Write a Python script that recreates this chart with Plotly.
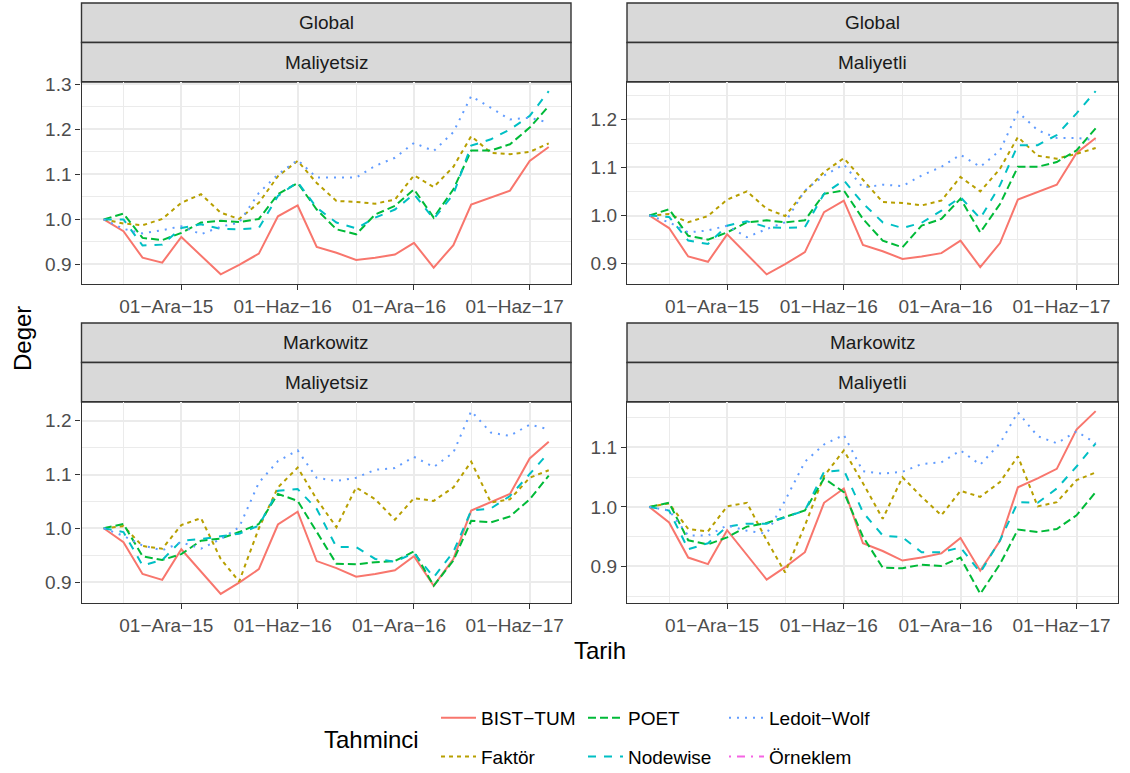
import pandas as pd
import plotly.graph_objects as go

W, H = 1130, 773

# Monthly observation dates
DATES = ["2015-08-01", "2015-09-01", "2015-10-01", "2015-11-01", "2015-12-01",
         "2016-01-01", "2016-02-01", "2016-03-01", "2016-04-01", "2016-05-01",
         "2016-06-01", "2016-07-01", "2016-08-01", "2016-09-01", "2016-10-01",
         "2016-11-01", "2016-12-01", "2017-01-01", "2017-02-01", "2017-03-01",
         "2017-04-01", "2017-05-01", "2017-06-01", "2017-07-01"]

TICK_DATES = ["2015-12-01", "2016-06-01", "2016-12-01", "2017-06-01"]
TICK_LABELS = ["01\u2212Ara\u221215", "01\u2212Haz\u221216", "01\u2212Ara\u221216", "01\u2212Haz\u221217"]
MINOR_DATES = ["2015-09-01", "2016-03-01", "2016-09-01", "2017-03-01"]

# Market index (same in every panel)
BIST_TUM = [1.000, 0.974, 0.915, 0.904, 0.961, 0.920, 0.878, 0.899, 0.924, 1.007, 1.031, 0.939,
            0.926, 0.910, 0.915, 0.922, 0.948, 0.893, 0.943, 1.033, 1.048, 1.064, 1.130, 1.161]

# Global / Maliyetsiz
FAKTOR_GM = [1.000, 0.991, 0.987, 1.001, 1.037, 1.056, 1.015, 1.001, 1.037, 1.096, 1.130, 1.081,
             1.041, 1.039, 1.035, 1.044, 1.098, 1.072, 1.117, 1.185, 1.148, 1.145, 1.150, 1.169]
POET_GM = [1.000, 1.013, 0.959, 0.954, 0.970, 0.993, 0.997, 0.994, 1.001, 1.056, 1.081, 1.022,
           0.978, 0.967, 1.011, 1.030, 1.067, 1.004, 1.067, 1.153, 1.153, 1.167, 1.204, 1.252]
NODEWISE_GM = [1.000, 1.000, 0.942, 0.944, 0.981, 0.989, 0.979, 0.978, 0.981, 1.052, 1.083, 1.026,
               0.993, 0.980, 1.004, 1.022, 1.056, 1.001, 1.056, 1.164, 1.178, 1.200, 1.230, 1.285]
LW_GM = [1.000, 0.979, 0.969, 0.976, 0.985, 0.967, 0.984, 0.993, 1.059, 1.100, 1.132, 1.093,
         1.093, 1.093, 1.119, 1.137, 1.170, 1.152, 1.194, 1.274, 1.248, 1.222, 1.226, 1.215]

# Global / Maliyetli
FAKTOR_GC = [1.000, 1.003, 0.986, 0.999, 1.033, 1.050, 1.014, 0.999, 1.050, 1.090, 1.119, 1.075,
             1.028, 1.026, 1.021, 1.031, 1.080, 1.050, 1.097, 1.163, 1.124, 1.118, 1.128, 1.140]
POET_GC = [1.000, 1.013, 0.958, 0.950, 0.965, 0.986, 0.990, 0.986, 0.990, 1.045, 1.052, 0.993,
           0.948, 0.934, 0.979, 0.993, 1.035, 0.965, 1.024, 1.101, 1.101, 1.111, 1.135, 1.181]
NODEWISE_GC = [1.000, 0.997, 0.948, 0.941, 0.979, 0.988, 0.976, 0.974, 0.976, 1.045, 1.073, 1.025,
               0.986, 0.974, 0.985, 1.010, 1.038, 0.994, 1.063, 1.146, 1.146, 1.167, 1.212, 1.258]
LW_GC = [1.000, 0.986, 0.965, 0.969, 0.979, 0.955, 0.972, 0.986, 1.052, 1.083, 1.106, 1.058,
         1.064, 1.061, 1.083, 1.101, 1.126, 1.101, 1.135, 1.215, 1.177, 1.161, 1.161, 1.156]

# Markowitz / Maliyetsiz
FAKTOR_MM = [1.000, 1.004, 0.967, 0.962, 1.006, 1.019, 0.943, 0.901, 1.000, 1.076, 1.113, 1.054,
             1.002, 1.076, 1.054, 1.016, 1.056, 1.051, 1.076, 1.124, 1.048, 1.054, 1.094, 1.108]
POET_MM = [1.000, 1.008, 0.948, 0.941, 0.952, 0.977, 0.981, 0.993, 1.008, 1.064, 1.051, 0.993,
           0.934, 0.933, 0.937, 0.939, 0.957, 0.893, 0.940, 1.014, 1.011, 1.022, 1.054, 1.098]
NODEWISE_MM = [1.000, 0.993, 0.931, 0.941, 0.977, 0.980, 0.985, 0.990, 1.005, 1.070, 1.073, 1.036,
               0.965, 0.965, 0.943, 0.938, 0.954, 0.909, 0.956, 1.033, 1.037, 1.060, 1.101, 1.141]
LW_MM = [1.000, 0.986, 0.968, 0.959, 0.974, 0.962, 0.980, 1.002, 1.085, 1.125, 1.145, 1.094,
         1.088, 1.094, 1.109, 1.112, 1.133, 1.114, 1.141, 1.218, 1.178, 1.172, 1.193, 1.184]

# Markowitz / Maliyetli
FAKTOR_MC = [1.000, 1.006, 0.963, 0.959, 1.001, 1.007, 0.944, 0.890, 0.969, 1.052, 1.095, 1.040,
             0.980, 1.050, 1.017, 0.986, 1.027, 1.017, 1.042, 1.085, 1.001, 1.008, 1.045, 1.058]
POET_MC = [1.000, 1.007, 0.944, 0.937, 0.949, 0.967, 0.973, 0.983, 0.994, 1.048, 1.025, 0.950,
           0.898, 0.897, 0.903, 0.901, 0.915, 0.854, 0.904, 0.962, 0.958, 0.963, 0.986, 1.025]
NODEWISE_MC = [1.000, 0.994, 0.929, 0.939, 0.967, 0.972, 0.972, 0.983, 0.994, 1.059, 1.062, 0.991,
               0.952, 0.949, 0.924, 0.924, 0.932, 0.890, 0.944, 1.008, 1.007, 1.031, 1.068, 1.107]
LW_MC = [1.000, 0.994, 0.952, 0.952, 0.969, 0.960, 0.955, 1.011, 1.076, 1.105, 1.121, 1.060,
         1.056, 1.059, 1.072, 1.075, 1.095, 1.071, 1.107, 1.159, 1.119, 1.107, 1.127, 1.107]

# Sample covariance estimator has no values to show
ORNEKLEM = [None] * len(DATES)

PANEL_TITLES = [("Global", "Maliyetsiz"), ("Global", "Maliyetli"),
                ("Markowitz", "Maliyetsiz"), ("Markowitz", "Maliyetli")]

SERIES_NAMES = ["BIST\u2212TUM", "Fakt\u00f6r", "POET", "Nodewise", "Ledoit\u2212Wolf", "\u00d6rneklem"]
PANEL_DATA = [
    [BIST_TUM, FAKTOR_GM, POET_GM, NODEWISE_GM, LW_GM, ORNEKLEM],
    [BIST_TUM, FAKTOR_GC, POET_GC, NODEWISE_GC, LW_GC, ORNEKLEM],
    [BIST_TUM, FAKTOR_MM, POET_MM, NODEWISE_MM, LW_MM, ORNEKLEM],
    [BIST_TUM, FAKTOR_MC, POET_MC, NODEWISE_MC, LW_MC, ORNEKLEM],
]

COLORS = ["#F8766D", "#B79F00", "#00BA38", "#00BFC4", "#619CFF", "#F564E3"]
DASHES = ["solid", "4px,4px", "8px,4px", "8px,8px", "2px,6px", "2px,6px,8px,6px"]
LEGEND_SLOT = ["legend", "legend", "legend2", "legend2", "legend3", "legend3"]

FONT = "Liberation Sans"


def fx(px):
    return px / W


def fy(py):
    return 1 - py / H


# Panel geometry in pixels: (left, right, top, bottom)
PANEL_BOX = [(81.5, 571, 82, 283.5), (627, 1118, 82, 283.5),
             (81.5, 571, 402, 603), (627, 1118, 402, 603)]
STRIP_H = 39.5

fig = go.Figure()

for p, series in enumerate(PANEL_DATA):
    ax = "" if p == 0 else str(p + 1)
    for s, (name, vals) in enumerate(zip(SERIES_NAMES, series)):
        fig.add_trace(go.Scatter(
            x=DATES, y=vals, mode="lines", name=name,
            line=dict(color=COLORS[s], width=2, dash=DASHES[s]),
            xaxis="x" + ax, yaxis="y" + ax,
            legend=LEGEND_SLOT[s], legendgroup=name,
            showlegend=(p == 0), hoverinfo="skip",
        ))

# x range: data span with 5% expansion on each side
d0, d1 = pd.Timestamp(DATES[0]), pd.Timestamp(DATES[-1])
pad = (d1 - d0) * 0.05
x_range = [(d0 - pad).strftime("%Y-%m-%d %H:%M"), (d1 + pad).strftime("%Y-%m-%d %H:%M")]

axis_common = dict(
    showline=True, mirror=True, linecolor="#333333", linewidth=1.4,
    ticks="outside", ticklen=5, tickwidth=1.4, tickcolor="#333333",
    showgrid=True, gridcolor="#EBEBEB", gridwidth=2, zeroline=False,
    tickfont=dict(family=FONT, size=19, color="#4D4D4D"),
)

layout = dict(
    width=W, height=H, margin=dict(l=0, r=0, t=0, b=0, autoexpand=False),
    paper_bgcolor="white", plot_bgcolor="white",
    font=dict(family=FONT, color="black"),
    shapes=[], annotations=[],
)

for p, (l, r, t, b) in enumerate(PANEL_BOX):
    ax = "" if p == 0 else str(p + 1)
    vals = [v for s in PANEL_DATA[p] for v in s if v is not None]
    lo, hi = min(vals), max(vals)
    ypad = (hi - lo) * 0.05
    layout["xaxis" + ax] = dict(
        axis_common, domain=[fx(l), fx(r)], anchor="y" + ax, type="date",
        range=x_range, tickmode="array", tickvals=TICK_DATES, ticktext=TICK_LABELS,
        ticklabelshift=-15,
        minor=dict(tickmode="array", tickvals=MINOR_DATES, showgrid=True,
                   gridcolor="#EBEBEB", gridwidth=1.2, ticks=""),
    )
    layout["yaxis" + ax] = dict(
        axis_common, domain=[fy(b), fy(t)], anchor="x" + ax,
        range=[lo - ypad, hi + ypad], tick0=0, dtick=0.1, tickformat=".1f",
        minor=dict(tick0=0, dtick=0.05, showgrid=True, gridcolor="#EBEBEB",
                   gridwidth=1.2, ticks=""),
    )
    # two stacked facet strips above the panel
    for k, label in enumerate(PANEL_TITLES[p]):
        top = t - (2 - k) * STRIP_H
        bot = top + STRIP_H
        layout["shapes"].append(dict(
            type="rect", xref="paper", yref="paper", layer="below",
            x0=fx(l), x1=fx(r), y0=fy(bot), y1=fy(top),
            fillcolor="#D9D9D9", line=dict(color="#333333", width=1.4),
        ))
        layout["annotations"].append(dict(
            xref="paper", yref="paper", x=fx((l + r) / 2), y=fy((top + bot) / 2),
            text=label, showarrow=False, xanchor="center", yanchor="middle",
            font=dict(family=FONT, size=19, color="#1A1A1A"),
        ))

# axis titles and legend title
layout["annotations"] += [
    dict(xref="paper", yref="paper", x=fx(22), y=fy(339), text="Deger", textangle=-90,
         showarrow=False, xanchor="center", yanchor="middle",
         font=dict(family=FONT, size=24, color="black")),
    dict(xref="paper", yref="paper", x=fx(600), y=fy(650), text="Tarih",
         showarrow=False, xanchor="center", yanchor="middle",
         font=dict(family=FONT, size=24, color="black")),
    dict(xref="paper", yref="paper", x=fx(322), y=fy(739), text="Tahminci",
         showarrow=False, xanchor="left", yanchor="middle",
         font=dict(family=FONT, size=24, color="black")),
]

legend_common = dict(
    orientation="v", xanchor="left", yanchor="top", bgcolor="rgba(0,0,0,0)",
    font=dict(family=FONT, size=19, color="black"), tracegroupgap=11,
    itemwidth=35, borderwidth=0,
)
layout["legend"] = dict(legend_common, x=fx(436), y=fy(699))
layout["legend2"] = dict(legend_common, x=fx(583), y=fy(699))
layout["legend3"] = dict(legend_common, x=fx(724), y=fy(699))

fig.update_layout(**layout)
fig.write_html("out.html")
